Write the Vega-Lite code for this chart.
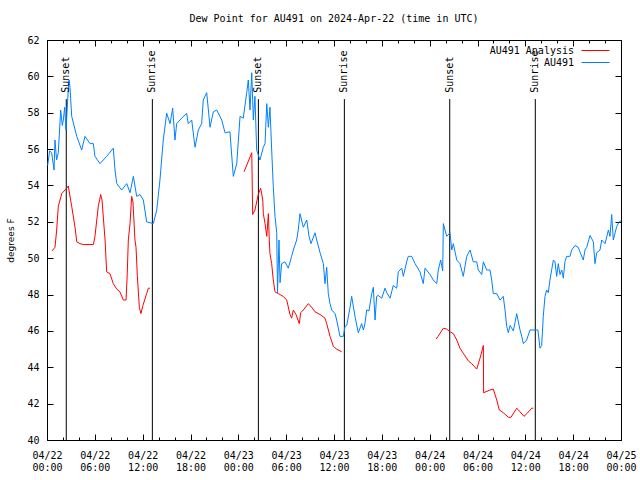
{
  "$schema": "https://vega.github.io/schema/vega-lite/v6.json",
  "width": 574,
  "height": 400,
  "autosize": "none",
  "padding": {"left": 47, "top": 40, "right": 19, "bottom": 40},
  "background": "white",
  "title": {"text": "Dew Point for AU491 on 2024-Apr-22 (time in UTC)", "font": "DejaVu Sans Mono", "fontSize": 10, "fontWeight": "normal", "color": "black", "offset": 11, "anchor": "middle"},
  "datasets": {
    "sun": [
      {"t": "2024-04-22T02:25:00Z", "label": "Sunset"},
      {"t": "2024-04-22T13:13:00Z", "label": "Sunrise"},
      {"t": "2024-04-23T02:31:00Z", "label": "Sunset"},
      {"t": "2024-04-23T13:18:00Z", "label": "Sunrise"},
      {"t": "2024-04-24T02:31:00Z", "label": "Sunset"},
      {"t": "2024-04-24T13:15:00Z", "label": "Sunrise"}
    ],
    "ana": [
      {"t": "2024-04-22T00:38:00Z", "v": 50.4, "s": 1},
      {"t": "2024-04-22T01:00:00Z", "v": 50.6, "s": 1},
      {"t": "2024-04-22T01:13:00Z", "v": 51.55, "s": 1},
      {"t": "2024-04-22T01:25:00Z", "v": 52.85, "s": 1},
      {"t": "2024-04-22T01:38:00Z", "v": 53.2, "s": 1},
      {"t": "2024-04-22T01:51:00Z", "v": 53.55, "s": 1},
      {"t": "2024-04-22T02:28:00Z", "v": 53.85, "s": 1},
      {"t": "2024-04-22T02:40:00Z", "v": 53.97, "s": 1},
      {"t": "2024-04-22T03:06:00Z", "v": 52.85, "s": 1},
      {"t": "2024-04-22T03:31:00Z", "v": 51.7, "s": 1},
      {"t": "2024-04-22T03:44:00Z", "v": 50.9, "s": 1},
      {"t": "2024-04-22T04:08:00Z", "v": 50.8, "s": 1},
      {"t": "2024-04-22T04:33:00Z", "v": 50.75, "s": 1},
      {"t": "2024-04-22T05:49:00Z", "v": 50.75, "s": 1},
      {"t": "2024-04-22T06:01:00Z", "v": 51.2, "s": 1},
      {"t": "2024-04-22T06:26:00Z", "v": 52.85, "s": 1},
      {"t": "2024-04-22T06:44:00Z", "v": 53.5, "s": 1},
      {"t": "2024-04-22T06:54:00Z", "v": 53.2, "s": 1},
      {"t": "2024-04-22T07:17:00Z", "v": 51.0, "s": 1},
      {"t": "2024-04-22T07:29:00Z", "v": 49.25, "s": 1},
      {"t": "2024-04-22T07:54:00Z", "v": 49.15, "s": 1},
      {"t": "2024-04-22T08:19:00Z", "v": 48.6, "s": 1},
      {"t": "2024-04-22T08:45:00Z", "v": 48.3, "s": 1},
      {"t": "2024-04-22T09:09:00Z", "v": 48.15, "s": 1},
      {"t": "2024-04-22T09:34:00Z", "v": 47.7, "s": 1},
      {"t": "2024-04-22T09:55:00Z", "v": 47.7, "s": 1},
      {"t": "2024-04-22T10:04:00Z", "v": 49.15, "s": 1},
      {"t": "2024-04-22T10:12:00Z", "v": 51.0, "s": 1},
      {"t": "2024-04-22T10:25:00Z", "v": 51.9, "s": 1},
      {"t": "2024-04-22T10:37:00Z", "v": 53.4, "s": 1},
      {"t": "2024-04-22T10:47:00Z", "v": 53.1, "s": 1},
      {"t": "2024-04-22T11:02:00Z", "v": 51.0, "s": 1},
      {"t": "2024-04-22T11:10:00Z", "v": 50.6, "s": 1},
      {"t": "2024-04-22T11:20:00Z", "v": 49.0, "s": 1},
      {"t": "2024-04-22T11:35:00Z", "v": 47.3, "s": 1},
      {"t": "2024-04-22T11:47:00Z", "v": 46.95, "s": 1},
      {"t": "2024-04-22T12:02:00Z", "v": 47.4, "s": 1},
      {"t": "2024-04-22T12:30:00Z", "v": 48.05, "s": 1},
      {"t": "2024-04-22T12:43:00Z", "v": 48.35, "s": 1},
      {"t": "2024-04-22T12:55:00Z", "v": 48.35, "s": 1},
      {"t": "2024-04-23T00:43:00Z", "v": 54.75, "s": 2},
      {"t": "2024-04-23T01:41:00Z", "v": 55.8, "s": 2},
      {"t": "2024-04-23T01:48:00Z", "v": 52.4, "s": 2},
      {"t": "2024-04-23T02:05:00Z", "v": 52.65, "s": 2},
      {"t": "2024-04-23T02:30:00Z", "v": 53.5, "s": 2},
      {"t": "2024-04-23T02:48:00Z", "v": 53.85, "s": 2},
      {"t": "2024-04-23T03:04:00Z", "v": 53.2, "s": 2},
      {"t": "2024-04-23T03:08:00Z", "v": 52.45, "s": 2},
      {"t": "2024-04-23T03:21:00Z", "v": 51.9, "s": 2},
      {"t": "2024-04-23T03:34:00Z", "v": 51.2, "s": 2},
      {"t": "2024-04-23T03:46:00Z", "v": 52.45, "s": 2},
      {"t": "2024-04-23T03:53:00Z", "v": 51.0, "s": 2},
      {"t": "2024-04-23T03:58:00Z", "v": 50.25, "s": 2},
      {"t": "2024-04-23T04:11:00Z", "v": 49.7, "s": 2},
      {"t": "2024-04-23T04:23:00Z", "v": 48.8, "s": 2},
      {"t": "2024-04-23T04:36:00Z", "v": 48.15, "s": 2},
      {"t": "2024-04-23T05:01:00Z", "v": 48.05, "s": 2},
      {"t": "2024-04-23T05:38:00Z", "v": 47.9, "s": 2},
      {"t": "2024-04-23T06:04:00Z", "v": 47.7, "s": 2},
      {"t": "2024-04-23T06:29:00Z", "v": 46.9, "s": 2},
      {"t": "2024-04-23T06:41:00Z", "v": 46.7, "s": 2},
      {"t": "2024-04-23T06:54:00Z", "v": 47.15, "s": 2},
      {"t": "2024-04-23T07:14:00Z", "v": 46.9, "s": 2},
      {"t": "2024-04-23T07:39:00Z", "v": 46.4, "s": 2},
      {"t": "2024-04-23T07:49:00Z", "v": 47.0, "s": 2},
      {"t": "2024-04-23T08:09:00Z", "v": 47.15, "s": 2},
      {"t": "2024-04-23T08:47:00Z", "v": 47.5, "s": 2},
      {"t": "2024-04-23T09:12:00Z", "v": 47.3, "s": 2},
      {"t": "2024-04-23T09:37:00Z", "v": 47.05, "s": 2},
      {"t": "2024-04-23T10:15:00Z", "v": 46.9, "s": 2},
      {"t": "2024-04-23T10:52:00Z", "v": 46.7, "s": 2},
      {"t": "2024-04-23T11:05:00Z", "v": 46.4, "s": 2},
      {"t": "2024-04-23T11:30:00Z", "v": 45.7, "s": 2},
      {"t": "2024-04-23T11:55:00Z", "v": 45.15, "s": 2},
      {"t": "2024-04-23T12:20:00Z", "v": 45.0, "s": 2},
      {"t": "2024-04-23T12:58:00Z", "v": 44.85, "s": 2},
      {"t": "2024-04-24T00:48:00Z", "v": 45.55, "s": 3},
      {"t": "2024-04-24T01:03:00Z", "v": 45.7, "s": 3},
      {"t": "2024-04-24T01:43:00Z", "v": 46.15, "s": 3},
      {"t": "2024-04-24T02:08:00Z", "v": 46.1, "s": 3},
      {"t": "2024-04-24T02:33:00Z", "v": 45.95, "s": 3},
      {"t": "2024-04-24T02:58:00Z", "v": 45.85, "s": 3},
      {"t": "2024-04-24T03:24:00Z", "v": 45.5, "s": 3},
      {"t": "2024-04-24T03:48:00Z", "v": 45.05, "s": 3},
      {"t": "2024-04-24T04:13:00Z", "v": 44.77, "s": 3},
      {"t": "2024-04-24T04:51:00Z", "v": 44.35, "s": 3},
      {"t": "2024-04-24T05:16:00Z", "v": 44.2, "s": 3},
      {"t": "2024-04-24T05:54:00Z", "v": 43.9, "s": 3},
      {"t": "2024-04-24T06:19:00Z", "v": 44.5, "s": 3},
      {"t": "2024-04-24T06:44:00Z", "v": 45.2, "s": 3},
      {"t": "2024-04-24T06:46:00Z", "v": 42.6, "s": 3},
      {"t": "2024-04-24T07:34:00Z", "v": 42.75, "s": 3},
      {"t": "2024-04-24T07:59:00Z", "v": 42.8, "s": 3},
      {"t": "2024-04-24T08:25:00Z", "v": 42.2, "s": 3},
      {"t": "2024-04-24T08:44:00Z", "v": 41.65, "s": 3},
      {"t": "2024-04-24T09:14:00Z", "v": 41.5, "s": 3},
      {"t": "2024-04-24T09:52:00Z", "v": 41.25, "s": 3},
      {"t": "2024-04-24T10:12:00Z", "v": 41.25, "s": 3},
      {"t": "2024-04-24T10:55:00Z", "v": 41.75, "s": 3},
      {"t": "2024-04-24T11:20:00Z", "v": 41.55, "s": 3},
      {"t": "2024-04-24T11:50:00Z", "v": 41.3, "s": 3},
      {"t": "2024-04-24T12:12:00Z", "v": 41.45, "s": 3},
      {"t": "2024-04-24T12:48:00Z", "v": 41.75, "s": 3},
      {"t": "2024-04-24T13:00:00Z", "v": 41.75, "s": 3}
    ],
    "obs": [
      {"t": "2024-04-22T00:05:00Z", "v": 55.1},
      {"t": "2024-04-22T00:20:00Z", "v": 55.9},
      {"t": "2024-04-22T00:35:00Z", "v": 55.8},
      {"t": "2024-04-22T00:53:00Z", "v": 54.85},
      {"t": "2024-04-22T01:00:00Z", "v": 56.5},
      {"t": "2024-04-22T01:12:00Z", "v": 55.4},
      {"t": "2024-04-22T01:25:00Z", "v": 55.8},
      {"t": "2024-04-22T01:43:00Z", "v": 58.15},
      {"t": "2024-04-22T01:55:00Z", "v": 57.3},
      {"t": "2024-04-22T02:03:00Z", "v": 57.6},
      {"t": "2024-04-22T02:13:00Z", "v": 58.3},
      {"t": "2024-04-22T02:23:00Z", "v": 57.05},
      {"t": "2024-04-22T02:40:00Z", "v": 59.25},
      {"t": "2024-04-22T02:46:00Z", "v": 59.8},
      {"t": "2024-04-22T02:53:00Z", "v": 59.4},
      {"t": "2024-04-22T03:06:00Z", "v": 57.8},
      {"t": "2024-04-22T03:44:00Z", "v": 56.7},
      {"t": "2024-04-22T04:21:00Z", "v": 55.95},
      {"t": "2024-04-22T04:46:00Z", "v": 56.7},
      {"t": "2024-04-22T05:24:00Z", "v": 56.3},
      {"t": "2024-04-22T05:49:00Z", "v": 56.3},
      {"t": "2024-04-22T06:01:00Z", "v": 55.6},
      {"t": "2024-04-22T06:39:00Z", "v": 55.2},
      {"t": "2024-04-22T07:29:00Z", "v": 55.6},
      {"t": "2024-04-22T08:19:00Z", "v": 56.05},
      {"t": "2024-04-22T08:32:00Z", "v": 54.85},
      {"t": "2024-04-22T08:45:00Z", "v": 54.1},
      {"t": "2024-04-22T09:22:00Z", "v": 53.75},
      {"t": "2024-04-22T10:00:00Z", "v": 54.1},
      {"t": "2024-04-22T10:25:00Z", "v": 53.6},
      {"t": "2024-04-22T10:50:00Z", "v": 54.5},
      {"t": "2024-04-22T11:15:00Z", "v": 53.4},
      {"t": "2024-04-22T11:40:00Z", "v": 53.5},
      {"t": "2024-04-22T12:05:00Z", "v": 53.2},
      {"t": "2024-04-22T12:30:00Z", "v": 52.0},
      {"t": "2024-04-22T13:20:00Z", "v": 51.9},
      {"t": "2024-04-22T13:46:00Z", "v": 52.65},
      {"t": "2024-04-22T14:10:00Z", "v": 54.3},
      {"t": "2024-04-22T14:35:00Z", "v": 56.5},
      {"t": "2024-04-22T15:01:00Z", "v": 57.97},
      {"t": "2024-04-22T15:26:00Z", "v": 57.4},
      {"t": "2024-04-22T15:46:00Z", "v": 58.25},
      {"t": "2024-04-22T16:03:00Z", "v": 56.5},
      {"t": "2024-04-22T16:16:00Z", "v": 57.4},
      {"t": "2024-04-22T16:54:00Z", "v": 57.7},
      {"t": "2024-04-22T17:31:00Z", "v": 57.97},
      {"t": "2024-04-22T17:43:00Z", "v": 57.4},
      {"t": "2024-04-22T18:09:00Z", "v": 57.6},
      {"t": "2024-04-22T18:34:00Z", "v": 56.1},
      {"t": "2024-04-22T18:59:00Z", "v": 57.05},
      {"t": "2024-04-22T19:24:00Z", "v": 57.4},
      {"t": "2024-04-22T19:36:00Z", "v": 58.7},
      {"t": "2024-04-22T20:02:00Z", "v": 59.1},
      {"t": "2024-04-22T20:27:00Z", "v": 57.2},
      {"t": "2024-04-22T20:52:00Z", "v": 58.05},
      {"t": "2024-04-22T21:17:00Z", "v": 58.15},
      {"t": "2024-04-22T21:55:00Z", "v": 57.6},
      {"t": "2024-04-22T22:20:00Z", "v": 56.9},
      {"t": "2024-04-22T22:57:00Z", "v": 56.95},
      {"t": "2024-04-22T23:22:00Z", "v": 54.5},
      {"t": "2024-04-22T23:48:00Z", "v": 55.2},
      {"t": "2024-04-23T00:13:00Z", "v": 57.8},
      {"t": "2024-04-23T00:37:00Z", "v": 57.7},
      {"t": "2024-04-23T01:03:00Z", "v": 59.1},
      {"t": "2024-04-23T01:15:00Z", "v": 59.8},
      {"t": "2024-04-23T01:28:00Z", "v": 58.15},
      {"t": "2024-04-23T01:41:00Z", "v": 60.2},
      {"t": "2024-04-23T01:53:00Z", "v": 57.6},
      {"t": "2024-04-23T02:05:00Z", "v": 58.9},
      {"t": "2024-04-23T02:18:00Z", "v": 55.95},
      {"t": "2024-04-23T02:43:00Z", "v": 55.4},
      {"t": "2024-04-23T03:08:00Z", "v": 56.1},
      {"t": "2024-04-23T03:21:00Z", "v": 56.3},
      {"t": "2024-04-23T03:34:00Z", "v": 58.5},
      {"t": "2024-04-23T03:46:00Z", "v": 57.2},
      {"t": "2024-04-23T03:58:00Z", "v": 58.3},
      {"t": "2024-04-23T04:11:00Z", "v": 55.95},
      {"t": "2024-04-23T04:23:00Z", "v": 53.95},
      {"t": "2024-04-23T04:36:00Z", "v": 52.3},
      {"t": "2024-04-23T04:49:00Z", "v": 51.4},
      {"t": "2024-04-23T04:55:00Z", "v": 48.1},
      {"t": "2024-04-23T05:06:00Z", "v": 51.0},
      {"t": "2024-04-23T05:14:00Z", "v": 48.65},
      {"t": "2024-04-23T05:26:00Z", "v": 49.7},
      {"t": "2024-04-23T05:51:00Z", "v": 49.8},
      {"t": "2024-04-23T06:16:00Z", "v": 49.45},
      {"t": "2024-04-23T06:41:00Z", "v": 50.1},
      {"t": "2024-04-23T06:54:00Z", "v": 50.45},
      {"t": "2024-04-23T07:19:00Z", "v": 51.0},
      {"t": "2024-04-23T07:31:00Z", "v": 51.55},
      {"t": "2024-04-23T07:44:00Z", "v": 52.45},
      {"t": "2024-04-23T08:09:00Z", "v": 51.7},
      {"t": "2024-04-23T08:35:00Z", "v": 52.1},
      {"t": "2024-04-23T08:52:00Z", "v": 51.2},
      {"t": "2024-04-23T09:07:00Z", "v": 50.8},
      {"t": "2024-04-23T09:37:00Z", "v": 51.4},
      {"t": "2024-04-23T09:50:00Z", "v": 51.0},
      {"t": "2024-04-23T10:15:00Z", "v": 50.3},
      {"t": "2024-04-23T10:40:00Z", "v": 49.7},
      {"t": "2024-04-23T10:52:00Z", "v": 48.6},
      {"t": "2024-04-23T11:05:00Z", "v": 49.5},
      {"t": "2024-04-23T11:17:00Z", "v": 48.05},
      {"t": "2024-04-23T11:30:00Z", "v": 47.5},
      {"t": "2024-04-23T11:43:00Z", "v": 47.15},
      {"t": "2024-04-23T12:08:00Z", "v": 46.95},
      {"t": "2024-04-23T12:20:00Z", "v": 46.6},
      {"t": "2024-04-23T12:45:00Z", "v": 45.7},
      {"t": "2024-04-23T13:10:00Z", "v": 45.7},
      {"t": "2024-04-23T13:23:00Z", "v": 46.25},
      {"t": "2024-04-23T13:36:00Z", "v": 46.3},
      {"t": "2024-04-23T14:01:00Z", "v": 47.3},
      {"t": "2024-04-23T14:13:00Z", "v": 47.9},
      {"t": "2024-04-23T14:38:00Z", "v": 46.8},
      {"t": "2024-04-23T15:03:00Z", "v": 45.9},
      {"t": "2024-04-23T15:28:00Z", "v": 46.4},
      {"t": "2024-04-23T15:41:00Z", "v": 46.05},
      {"t": "2024-04-23T15:53:00Z", "v": 46.4},
      {"t": "2024-04-23T16:06:00Z", "v": 47.15},
      {"t": "2024-04-23T16:23:00Z", "v": 47.1},
      {"t": "2024-04-23T16:44:00Z", "v": 48.05},
      {"t": "2024-04-23T16:56:00Z", "v": 48.4},
      {"t": "2024-04-23T17:09:00Z", "v": 46.6},
      {"t": "2024-04-23T17:21:00Z", "v": 47.9},
      {"t": "2024-04-23T17:33:00Z", "v": 47.95},
      {"t": "2024-04-23T17:59:00Z", "v": 47.8},
      {"t": "2024-04-23T18:24:00Z", "v": 48.35},
      {"t": "2024-04-23T18:37:00Z", "v": 48.1},
      {"t": "2024-04-23T19:02:00Z", "v": 47.8},
      {"t": "2024-04-23T19:26:00Z", "v": 48.5},
      {"t": "2024-04-23T19:52:00Z", "v": 48.35},
      {"t": "2024-04-23T20:04:00Z", "v": 49.25},
      {"t": "2024-04-23T20:30:00Z", "v": 49.45},
      {"t": "2024-04-23T20:42:00Z", "v": 49.0},
      {"t": "2024-04-23T21:07:00Z", "v": 49.8},
      {"t": "2024-04-23T21:19:00Z", "v": 50.1},
      {"t": "2024-04-23T21:45:00Z", "v": 50.1},
      {"t": "2024-04-23T22:10:00Z", "v": 49.7},
      {"t": "2024-04-23T22:47:00Z", "v": 49.25},
      {"t": "2024-04-23T23:12:00Z", "v": 48.6},
      {"t": "2024-04-23T23:25:00Z", "v": 49.45},
      {"t": "2024-04-24T00:03:00Z", "v": 49.1},
      {"t": "2024-04-24T00:27:00Z", "v": 48.8},
      {"t": "2024-04-24T00:53:00Z", "v": 48.6},
      {"t": "2024-04-24T01:05:00Z", "v": 49.35},
      {"t": "2024-04-24T01:23:00Z", "v": 49.9},
      {"t": "2024-04-24T01:38:00Z", "v": 49.3},
      {"t": "2024-04-24T01:43:00Z", "v": 51.9},
      {"t": "2024-04-24T02:08:00Z", "v": 51.2},
      {"t": "2024-04-24T02:33:00Z", "v": 51.4},
      {"t": "2024-04-24T02:46:00Z", "v": 50.45},
      {"t": "2024-04-24T02:58:00Z", "v": 50.8},
      {"t": "2024-04-24T03:24:00Z", "v": 49.9},
      {"t": "2024-04-24T03:48:00Z", "v": 49.7},
      {"t": "2024-04-24T04:13:00Z", "v": 49.0},
      {"t": "2024-04-24T04:39:00Z", "v": 50.1},
      {"t": "2024-04-24T05:04:00Z", "v": 50.45},
      {"t": "2024-04-24T05:28:00Z", "v": 49.8},
      {"t": "2024-04-24T05:54:00Z", "v": 49.8},
      {"t": "2024-04-24T06:06:00Z", "v": 49.35},
      {"t": "2024-04-24T06:32:00Z", "v": 49.1},
      {"t": "2024-04-24T06:44:00Z", "v": 49.8},
      {"t": "2024-04-24T07:09:00Z", "v": 49.35},
      {"t": "2024-04-24T07:34:00Z", "v": 49.35},
      {"t": "2024-04-24T07:47:00Z", "v": 48.8},
      {"t": "2024-04-24T07:59:00Z", "v": 48.05},
      {"t": "2024-04-24T08:25:00Z", "v": 48.05},
      {"t": "2024-04-24T08:49:00Z", "v": 47.7},
      {"t": "2024-04-24T09:14:00Z", "v": 47.9},
      {"t": "2024-04-24T09:27:00Z", "v": 47.15},
      {"t": "2024-04-24T09:40:00Z", "v": 46.25},
      {"t": "2024-04-24T09:52:00Z", "v": 45.9},
      {"t": "2024-04-24T10:05:00Z", "v": 46.3},
      {"t": "2024-04-24T10:30:00Z", "v": 46.0},
      {"t": "2024-04-24T10:55:00Z", "v": 46.95},
      {"t": "2024-04-24T11:20:00Z", "v": 46.05},
      {"t": "2024-04-24T11:33:00Z", "v": 45.7},
      {"t": "2024-04-24T11:45:00Z", "v": 45.3},
      {"t": "2024-04-24T12:10:00Z", "v": 45.5},
      {"t": "2024-04-24T12:35:00Z", "v": 46.05},
      {"t": "2024-04-24T13:13:00Z", "v": 46.05},
      {"t": "2024-04-24T13:35:00Z", "v": 46.05},
      {"t": "2024-04-24T13:50:00Z", "v": 45.05},
      {"t": "2024-04-24T14:03:00Z", "v": 45.2},
      {"t": "2024-04-24T14:15:00Z", "v": 46.8},
      {"t": "2024-04-24T14:28:00Z", "v": 47.9},
      {"t": "2024-04-24T14:41:00Z", "v": 48.25},
      {"t": "2024-04-24T14:53:00Z", "v": 48.1},
      {"t": "2024-04-24T15:05:00Z", "v": 48.8},
      {"t": "2024-04-24T15:18:00Z", "v": 49.35},
      {"t": "2024-04-24T15:31:00Z", "v": 49.9},
      {"t": "2024-04-24T15:43:00Z", "v": 49.8},
      {"t": "2024-04-24T15:56:00Z", "v": 49.0},
      {"t": "2024-04-24T16:08:00Z", "v": 49.7},
      {"t": "2024-04-24T16:21:00Z", "v": 49.1},
      {"t": "2024-04-24T16:34:00Z", "v": 49.35},
      {"t": "2024-04-24T16:46:00Z", "v": 48.9},
      {"t": "2024-04-24T16:58:00Z", "v": 49.8},
      {"t": "2024-04-24T17:11:00Z", "v": 50.1},
      {"t": "2024-04-24T17:36:00Z", "v": 50.1},
      {"t": "2024-04-24T17:49:00Z", "v": 50.45},
      {"t": "2024-04-24T18:14:00Z", "v": 50.7},
      {"t": "2024-04-24T18:38:00Z", "v": 50.6},
      {"t": "2024-04-24T18:51:00Z", "v": 50.35},
      {"t": "2024-04-24T19:16:00Z", "v": 49.9},
      {"t": "2024-04-24T19:29:00Z", "v": 50.45},
      {"t": "2024-04-24T19:42:00Z", "v": 50.6},
      {"t": "2024-04-24T20:07:00Z", "v": 51.25},
      {"t": "2024-04-24T20:32:00Z", "v": 50.9},
      {"t": "2024-04-24T20:44:00Z", "v": 49.7},
      {"t": "2024-04-24T20:57:00Z", "v": 50.3},
      {"t": "2024-04-24T21:22:00Z", "v": 50.45},
      {"t": "2024-04-24T21:35:00Z", "v": 51.0},
      {"t": "2024-04-24T22:00:00Z", "v": 50.8},
      {"t": "2024-04-24T22:25:00Z", "v": 51.55},
      {"t": "2024-04-24T22:37:00Z", "v": 51.2},
      {"t": "2024-04-24T22:50:00Z", "v": 52.4},
      {"t": "2024-04-24T23:02:00Z", "v": 51.0},
      {"t": "2024-04-24T23:28:00Z", "v": 51.75},
      {"t": "2024-04-24T23:47:00Z", "v": 52.0},
      {"t": "2024-04-25T00:00:00Z", "v": 52.05}
    ]
  },
  "layer": [
    {
      "data": {"name": "sun"},
      "mark": {"type": "rule", "color": "black", "strokeWidth": 1},
      "encoding": {
        "x": {"field": "t", "type": "temporal",
              "scale": {"type": "utc", "domain": [1713744000000, 1714003200000]},
              "axis": {"orient": "top", "labels": false, "title": null, "tickSize": -6,
                       "values": [1713744000000, 1713765600000, 1713787200000, 1713808800000, 1713830400000, 1713852000000, 1713873600000, 1713895200000, 1713916800000, 1713938400000, 1713960000000, 1713981600000, 1714003200000]}},
        "y": {"datum": 58.75, "type": "quantitative",
              "scale": {"domain": [40, 62], "nice": false, "zero": false},
              "axis": {"orient": "right", "labels": false, "title": null, "values": [40, 42, 44, 46, 48, 50, 52, 54, 56, 58, 60, 62], "tickSize": -6}},
        "y2": {"datum": 40}
      }
    },
    {
      "data": {"name": "ana"},
      "mark": {"type": "line", "strokeWidth": 1},
      "encoding": {
        "x": {"field": "t", "type": "temporal",
              "scale": {"type": "utc", "domain": [1713744000000, 1714003200000]},
              "axis": {"orient": "bottom", "labels": false, "title": null, "tickSize": -3,
                       "values": [1713744000000, 1713751200000, 1713758400000, 1713765600000, 1713772800000, 1713780000000, 1713787200000, 1713794400000, 1713801600000, 1713808800000, 1713816000000, 1713823200000, 1713830400000, 1713837600000, 1713844800000, 1713852000000, 1713859200000, 1713866400000, 1713873600000, 1713880800000, 1713888000000, 1713895200000, 1713902400000, 1713909600000, 1713916800000, 1713924000000, 1713931200000, 1713938400000, 1713945600000, 1713952800000, 1713960000000, 1713967200000, 1713974400000, 1713981600000, 1713988800000, 1713996000000, 1714003200000]}},
        "y": {"field": "v", "type": "quantitative", "scale": {"domain": [40, 62], "nice": false, "zero": false}, "axis": null},
        "detail": {"field": "s"},
        "color": {"datum": "AU491 Analysis",
                  "scale": {"domain": ["AU491 Analysis", "AU491"], "range": ["#ff0000", "#0080ff"]},
                  "legend": {"orient": "none", "legendX": 543, "legendY": 5, "title": null, "symbolType": "M-2.8,0H2.8", "symbolSize": 100, "symbolStrokeWidth": 1, "labelAlign": "right", "labelOffset": -27, "labelFont": "DejaVu Sans Mono", "labelFontSize": 10, "labelColor": "black", "rowPadding": 1, "labelLimit": 300}}
      }
    },
    {
      "data": {"name": "obs"},
      "mark": {"type": "line", "strokeWidth": 1},
      "encoding": {
        "x": {"field": "t", "type": "temporal",
              "scale": {"type": "utc", "domain": [1713744000000, 1714003200000]},
              "axis": {"orient": "bottom", "title": null, "tickSize": -6, "labelPadding": 16, "labelLineHeight": 12, "labelFlush": false, "labelOverlap": false,
                       "values": [1713744000000, 1713765600000, 1713787200000, 1713808800000, 1713830400000, 1713852000000, 1713873600000, 1713895200000, 1713916800000, 1713938400000, 1713960000000, 1713981600000, 1714003200000],
                       "labelExpr": "[utcFormat(datum.value, '%m/%d'), utcFormat(datum.value, '%H:%M')]"}},
        "y": {"field": "v", "type": "quantitative", "scale": {"domain": [40, 62], "nice": false, "zero": false},
              "axis": {"orient": "left", "title": "degrees F", "titleFont": "DejaVu Sans", "titleFontSize": 9, "titleFontWeight": "normal", "titleColor": "black", "titleX": -37, "titleY": 200, "titleAngle": 270, "titleAlign": "center", "titleBaseline": "middle", "values": [40, 42, 44, 46, 48, 50, 52, 54, 56, 58, 60, 62], "tickSize": -6, "labelPadding": 14}},
        "color": {"datum": "AU491"}
      }
    },
    {
      "data": {"name": "sun"},
      "mark": {"type": "text", "angle": 270, "align": "left", "baseline": "middle", "font": "DejaVu Sans Mono", "fontSize": 10, "color": "black"},
      "encoding": {
        "x": {"field": "t", "type": "temporal",
              "scale": {"type": "utc", "domain": [1713744000000, 1714003200000]},
              "axis": {"orient": "top", "labels": false, "title": null, "tickSize": -3,
                       "values": [1713744000000, 1713751200000, 1713758400000, 1713765600000, 1713772800000, 1713780000000, 1713787200000, 1713794400000, 1713801600000, 1713808800000, 1713816000000, 1713823200000, 1713830400000, 1713837600000, 1713844800000, 1713852000000, 1713859200000, 1713866400000, 1713873600000, 1713880800000, 1713888000000, 1713895200000, 1713902400000, 1713909600000, 1713916800000, 1713924000000, 1713931200000, 1713938400000, 1713945600000, 1713952800000, 1713960000000, 1713967200000, 1713974400000, 1713981600000, 1713988800000, 1713996000000, 1714003200000]}},
        "y": {"datum": 59.1, "type": "quantitative", "scale": {"domain": [40, 62], "nice": false, "zero": false}, "axis": null},
        "text": {"field": "label"}
      }
    }
  ],
  "resolve": {"axis": {"x": "independent", "y": "independent"}},
  "config": {
    "view": {"stroke": null},
    "axis": {"grid": false, "domainColor": "black", "domainWidth": 1, "tickColor": "black", "tickWidth": 1, "labelColor": "black", "labelFont": "DejaVu Sans Mono", "labelFontSize": 10}
  }
}
